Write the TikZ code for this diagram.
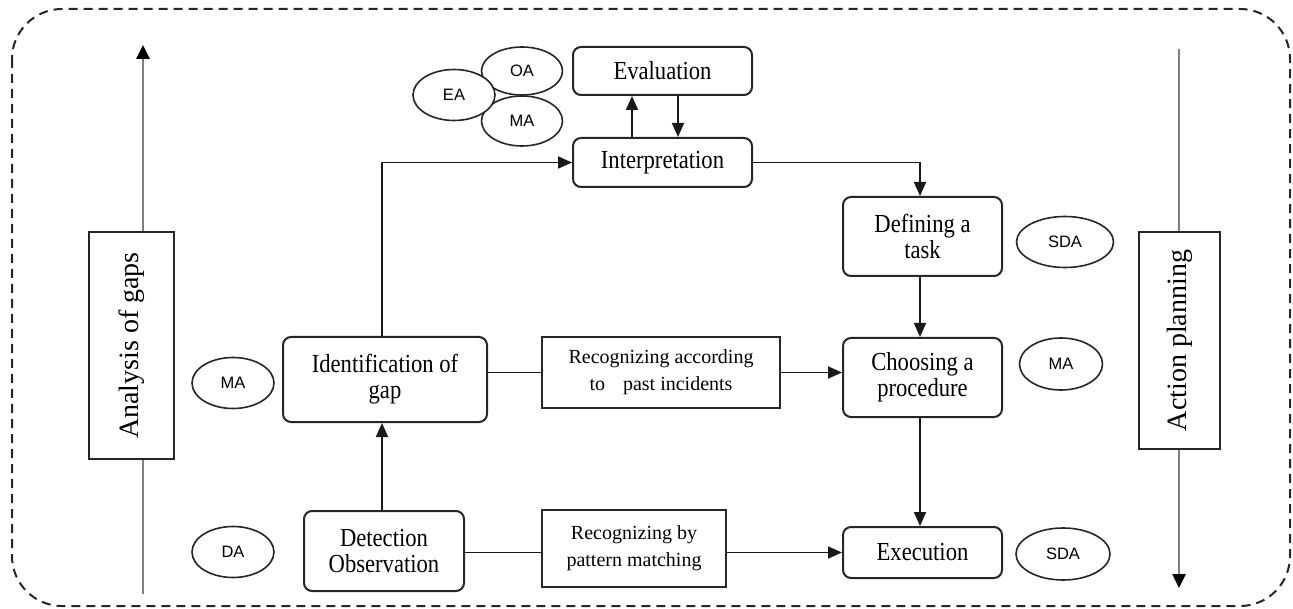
\documentclass[tikz,border=0pt]{standalone}
\usepackage{fontspec}
\setmainfont{Liberation Serif}
\newfontfamily\nserif{Liberation Serif}[FakeStretch=0.87]
\newfontfamily\lsans{Liberation Sans}
\usetikzlibrary{shapes.geometric,arrows.meta}
\begin{document}
\begin{tikzpicture}[x=1pt,y=-1pt,
  rbox/.style={draw=black!85, line width=2pt, rounded corners=8pt, fill=white, inner sep=0pt, align=center,
    font=\nserif\fontsize{26}{26}\selectfont},
  sbox/.style={draw=black!85, line width=2pt, fill=white, inner sep=0pt, align=center,
    font=\fontsize{20}{27}\selectfont},
  sidebox/.style={draw=black!85, line width=2pt, fill=white, inner sep=0pt, rotate=90,
    font=\fontsize{28}{30}\selectfont},
  lab/.style={ellipse, draw=black!85, line width=1.6pt, fill=white, inner sep=0pt,
    font=\lsans\fontsize{16.5}{18}\selectfont},
  arr/.style={draw=black!90, line width=1.8pt, -{Triangle[length=14pt,width=12pt]}},
  ln/.style={draw=black!90, line width=1.8pt},
  garr/.style={draw=black!50, line width=2.6pt, -{Triangle[length=14pt,width=13pt,fill=black,color=black]}}
]
\useasboundingbox (0,0) rectangle (1293,609);
% dashed frame
\draw[line width=2pt, black!85, dash pattern=on 9pt off 6pt, rounded corners=50pt] (12,9) rectangle (1290,606);

% side arrows
\coordinate (lbot) at (143,594);
\coordinate (ltop) at (143,45);
\coordinate (rtop) at (1179,49);
\coordinate (rbot) at (1179,588);
\draw[garr] (lbot) -- (ltop);
\draw[garr] (rtop) -- (rbot);
\node[sidebox, minimum width=227, minimum height=85] (anal) at (131.5,345.5) {Analysis of gaps};
\node[sidebox, minimum width=217, minimum height=81] (act) at (1179.5,340.5) {Action planning};

% main boxes
\node[rbox, minimum width=179, minimum height=48] (eval) at (662.5,71) {Evaluation};
\node[rbox, minimum width=179, minimum height=49] (interp) at (662.5,162.5) {Interpretation};
\node[rbox, minimum width=159, minimum height=79] (defn) at (922.5,236.5) {Defining a\\task};
\node[rbox, minimum width=159, minimum height=79] (choose) at (922.5,377.5) {Choosing a\\procedure};
\node[rbox, minimum width=159, minimum height=51] (exec) at (922.5,552.5) {Execution};
\node[rbox, minimum width=204, minimum height=85] (ident) at (385,379.5) {Identification of\\gap};
\node[rbox, minimum width=160, minimum height=80] (detect) at (384,551) {Detection\\Observation};
\node[sbox, minimum width=238, minimum height=71] (rec1) at (661,372.5) {Recognizing according\\to\hspace{18pt}past incidents};
\node[sbox, minimum width=184, minimum height=77] (rec2) at (634,548.5) {Recognizing by\\pattern matching};

% labels
\node[lab, minimum width=81, minimum height=48] (oa) at (522,71) {OA};
\node[lab, minimum width=81, minimum height=50] (ma1) at (522,121) {MA};
\node[lab, minimum width=82, minimum height=51] (ea) at (454,95) {EA};
\node[lab, minimum width=82, minimum height=51] (ma2) at (233,383) {MA};
\node[lab, minimum width=82, minimum height=51] (da) at (233,552) {DA};
\node[lab, minimum width=97, minimum height=51] (sda1) at (1065,242) {SDA};
\node[lab, minimum width=83, minimum height=52] (ma3) at (1061,364) {MA};
\node[lab, minimum width=94, minimum height=52] (sda2) at (1063,554) {SDA};

% connectors
\draw[arr] ([xshift=-30.5pt]interp.north) -- ([xshift=-30.5pt]eval.south);
\draw[arr] ([xshift=15.5pt]eval.south) -- ([xshift=15.5pt]interp.north);
\draw[arr] ([xshift=-3pt]ident.north) |- (interp.west);
\draw[arr] (interp.east) -| ([xshift=-2.5pt]defn.north);
\draw[arr] ([xshift=-2.5pt]defn.south) -- ([xshift=-2.5pt]choose.north);
\draw[arr] ([xshift=-2.5pt]choose.south) -- ([xshift=-2.5pt]exec.north);
\draw[ln] (ident.east |- rec1.west) -- (rec1.west);
\draw[arr] (rec1.east) -- (rec1.east -| choose.west);
\draw[ln] (detect.east |- exec.west) -- (rec2.west |- exec.west);
\draw[arr] (rec2.east |- exec.west) -- (exec.west);
\draw[arr] ([xshift=-2pt]detect.north) -- ([xshift=-2pt]detect.north |- ident.south);
\end{tikzpicture}
\end{document}
